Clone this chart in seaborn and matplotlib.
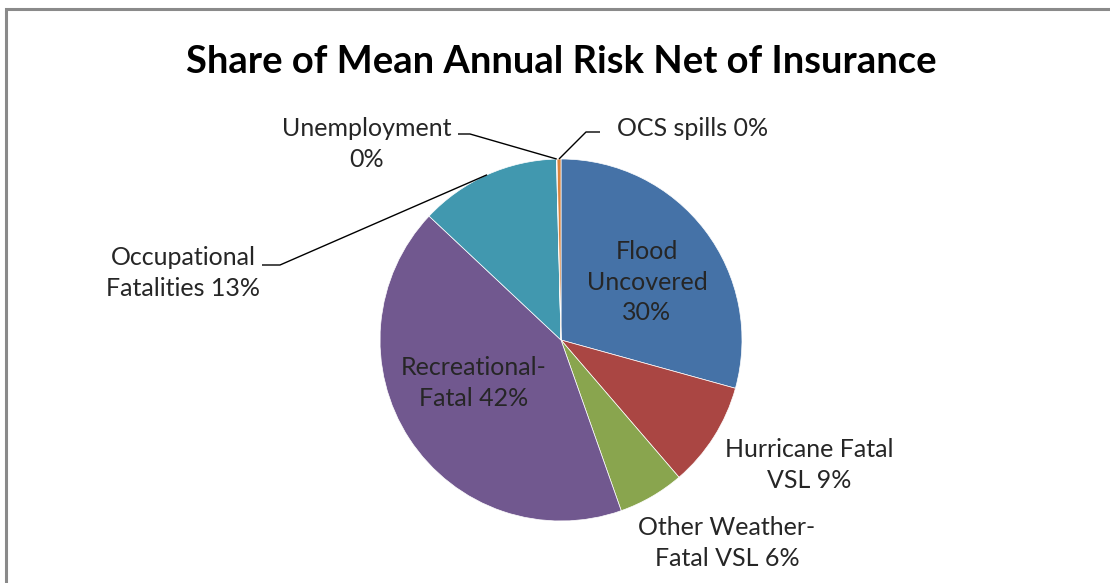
import matplotlib
matplotlib.use("Agg")
import matplotlib.pyplot as plt
import seaborn as sns
import numpy as np
from matplotlib.patches import Rectangle

# ---- data ----
categories = ["Flood Uncovered", "Hurricane Fatal VSL", "Other Weather-Fatal VSL",
              "Recreational-Fatal", "Occupational Fatalities", "Unemployment", "OCS spills"]
shares = [29.3, 9.4, 5.9, 42.4, 12.6, 0.05, 0.35]
label_texts = ["Flood\nUncovered\n30%", "Hurricane Fatal\nVSL 9%", "Other Weather-\nFatal VSL 6%",
               "Recreational-\nFatal 42%", "Occupational\nFatalities 13%", "Unemployment\n0%",
               "OCS spills 0%"]
colors = ["#4572A7", "#AA4643", "#89A54E", "#71588F", "#4198AF", "#93A9CF", "#DB843D"]
title = "Share of Mean Annual Risk Net of Insurance"

# ---- layout (pixels) ----
W, H = 1110, 583
cx, cy, R = 561, 340, 181
label_pos = {
    "Flood Uncovered": (647, 282),
    "Hurricane Fatal VSL": (809, 465),
    "Other Weather-Fatal VSL": (727, 543),
    "Recreational-Fatal": (474, 383),
    "Occupational Fatalities": (183, 273),
    "Unemployment": (367, 144),
    "OCS spills": (693, 129),
}
leaders = {
    "Occupational Fatalities": [(280, 265), (262, 265)],
    "Unemployment": [(470, 134), (458, 134)],
    "OCS spills": [(586, 132), (600, 132)],
}

sns.set_theme(style="white")
plt.rcParams['font.family'] = ['Lato', 'DejaVu Sans']

fig = plt.figure(figsize=(W / 100, H / 100), dpi=100)
fig.patch.set_facecolor("white")
ax = fig.add_axes([(cx - R) / W, (H - cy - R) / H, 2 * R / W, 2 * R / H])

wedges, _ = ax.pie(shares, colors=colors, startangle=90, counterclock=False, radius=1,
                   wedgeprops=dict(edgecolor="white", linewidth=0.5))
ax.set_xlim(-1, 1)
ax.set_ylim(-1, 1)
ax.axis("off")


def px(x, y):
    return ((x - cx) / R, (cy - y) / R)


text_color = "#262626"
for w, cat, lab in zip(wedges, categories, label_texts):
    tx, ty = px(*label_pos[cat])
    ax.text(tx, ty, lab, ha="center", va="center", fontsize=18, color=text_color,
            linespacing=1.4, clip_on=False)
    if cat in leaders:
        theta = np.deg2rad((w.theta1 + w.theta2) / 2)
        pts = [(np.cos(theta), np.sin(theta))] + [px(*p) for p in leaders[cat]]
        xs, ys = zip(*pts)
        ax.plot(xs, ys, color="black", lw=1.0, clip_on=False, solid_capstyle="butt")

# title, sized to span the reference width
t = fig.text(cx / W, 1 - 62 / H, title, ha="center", va="center", fontsize=24,
             fontweight="bold", color="black")
fig.canvas.draw()
bb = t.get_window_extent(fig.canvas.get_renderer())
t.set_fontsize(24 * 750 / bb.width)

# chart border (cropped at right and bottom)
fig.patches.append(Rectangle((5.5 / W, -0.1), 1.2, 1 - 8.5 / H + 0.1, transform=fig.transFigure,
                             fill=False, edgecolor="#8a8a8a", linewidth=2.2))

fig.savefig("out.png", dpi=100, facecolor="white")
